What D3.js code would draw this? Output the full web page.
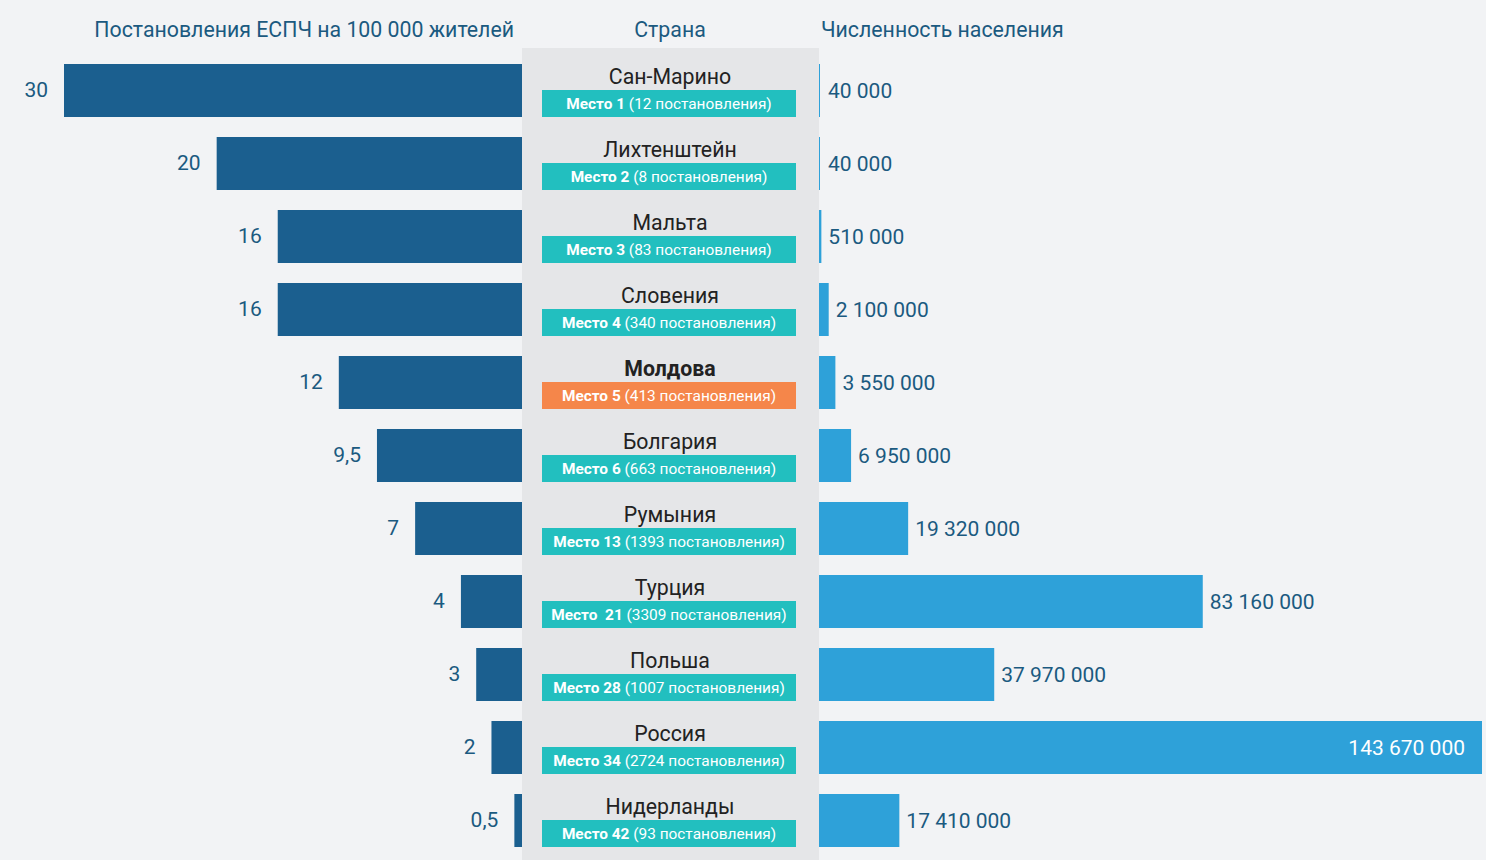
<!DOCTYPE html>
<html><head><meta charset="utf-8">
<script src="https://cdn.jsdelivr.net/npm/d3@7"></script>
<style>
html,body{margin:0;padding:0;background:#f2f3f5;}
svg{display:block;font-family:Roboto,"Noto Sans",sans-serif;}
</style></head>
<body><svg id="chart" width="1486" height="860"></svg>
<script>
const countries = ["Сан-Марино","Лихтенштейн","Мальта","Словения","Молдова","Болгария","Румыния","Турция","Польша","Россия","Нидерланды"];
const judgmentsPer100k = [30,20,16,16,12,9.5,7,4,3,2,0.5];
const population = [40000,40000,510000,2100000,3550000,6950000,19320000,83160000,37970000,143670000,17410000];
const ranks = ["1","2","3","4","5","6","13"," 21","28","34","42"];
const judgmentsTotal = [12,8,83,340,413,663,1393,3309,1007,2724,93];
const highlight = "Молдова";
const headers = ["Постановления ЕСПЧ на 100 000 жителей","Страна","Численность населения"];

const svg = d3.select("#chart");
const W = 1486, H = 860;
const midL = 522, midR = 819;

const y = d3.scaleBand().domain(countries).range([64, 847]).paddingInner(20/73).paddingOuter(0);
const xL = d3.scaleLinear().domain([0, 30]).range([midL, 64]);
const xR = d3.scaleLinear().domain([0, 143670000]).range([midR, 1482]);

const fmtPop = v => d3.format(",")(v).replace(/,/g, " ");
const fmtRate = v => String(v).replace(".", ",");

const data = countries.map((c,i)=>({c, rate:judgmentsPer100k[i], pop:population[i], rank:ranks[i], tot:judgmentsTotal[i]}));

// headers
const hc = "#1b5a80";
svg.append("text").attr("x",514).attr("y",37).attr("text-anchor","end").attr("font-size",21.3).attr("fill",hc).text(headers[0]);
svg.append("text").attr("x",670).attr("y",37).attr("text-anchor","middle").attr("font-size",21.3).attr("fill",hc).text(headers[1]);
svg.append("text").attr("x",821).attr("y",37).attr("text-anchor","start").attr("font-size",21.3).attr("fill",hc).text(headers[2]);

// left bars
svg.append("g").selectAll("rect").data(data).join("rect")
  .attr("x", d=>xL(d.rate)).attr("y", d=>y(d.c))
  .attr("width", d=>midL - xL(d.rate)).attr("height", y.bandwidth())
  .attr("fill","#1b5f8f");
svg.append("g").selectAll("text").data(data).join("text")
  .attr("x", d=>xL(d.rate)-16).attr("y", d=>y(d.c)+y.bandwidth()/2)
  .attr("dy","0.33em").attr("text-anchor","end").attr("font-size",21).attr("fill",hc)
  .text(d=>fmtRate(d.rate));

// middle panel
svg.append("rect").attr("x",midL).attr("y",48).attr("width",midR-midL).attr("height",H-48).attr("fill","#e5e6e8");

// right bars
svg.append("g").selectAll("rect").data(data).join("rect")
  .attr("x", midR).attr("y", d=>y(d.c))
  .attr("width", d=>Math.max(1, xR(d.pop)-midR)).attr("height", y.bandwidth())
  .attr("fill","#2ea1d9");
svg.append("g").selectAll("text").data(data).join("text")
  .attr("x", d=> d.pop > 120000000 ? xR(d.pop)-17 : Math.max(midR+2, xR(d.pop))+7)
  .attr("y", d=>y(d.c)+y.bandwidth()/2)
  .attr("dy","0.36em")
  .attr("text-anchor", d=> d.pop > 120000000 ? "end" : "start")
  .attr("font-size",21)
  .attr("fill", d=> d.pop > 120000000 ? "#ffffff" : hc)
  .text(d=>fmtPop(d.pop));

// country names & badges
const g = svg.append("g").selectAll("g").data(data).join("g")
  .attr("transform", d=>`translate(0,${y(d.c)})`);
g.append("text").attr("x",670).attr("y",20).attr("text-anchor","middle")
  .attr("font-size",21.3).attr("fill","#222")
  .attr("font-weight", d=>d.c===highlight?"700":"400").text(d=>d.c);
g.append("rect").attr("x",542).attr("y",26).attr("width",254).attr("height",27)
  .attr("fill", d=>d.c===highlight?"#f5864a":"#22bfbf");
const bt = g.append("text").attr("x",669).attr("y",45).attr("text-anchor","middle")
  .attr("font-size",15.4).attr("fill","#fff").attr("xml:space","preserve");
bt.append("tspan").attr("font-weight","700").text(d=>"Место "+d.rank);
bt.append("tspan").text(d=>" ("+d.tot+" постановления)");
</script></body></html>
